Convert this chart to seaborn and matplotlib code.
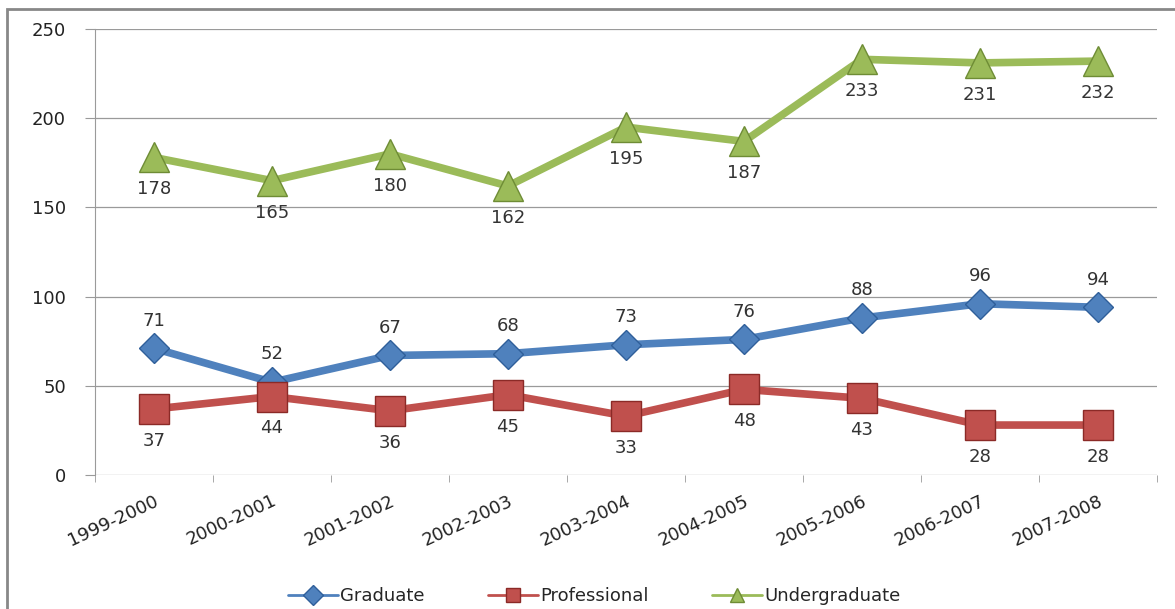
import pandas as pd
import numpy as np
import seaborn as sns
import matplotlib.pyplot as plt
from matplotlib.patches import Rectangle

# Academic years on the x axis
years = ['1999-2000', '2000-2001', '2001-2002', '2002-2003', '2003-2004',
         '2004-2005', '2005-2006', '2006-2007', '2007-2008']

# Values per group
graduate = [71, 52, 67, 68, 73, 76, 88, 96, 94]
professional = [37, 44, 36, 45, 33, 48, 43, 28, 28]
undergraduate = [178, 165, 180, 162, 195, 187, 233, 231, 232]

series = ['Graduate', 'Professional', 'Undergraduate']
colors = {'Graduate': '#4F81BD', 'Professional': '#C0504D', 'Undergraduate': '#9BBB59'}
edge = {'Graduate': '#2F5F9A', 'Professional': '#8B2A27', 'Undergraduate': '#6E8C35'}
markers = {'Graduate': 'D', 'Professional': 's', 'Undergraduate': '^'}
msize = {'Graduate': 15, 'Professional': 22, 'Undergraduate': 22}
label_offset = {'Graduate': 20, 'Professional': -23, 'Undergraduate': -23}

df = pd.DataFrame({
    'Year': years * 3,
    'Group': np.repeat(series, len(years)),
    'Count': graduate + professional + undergraduate,
})

sns.set_style('white')
plt.rcParams['font.family'] = ['DejaVu Sans']

fig = plt.figure(figsize=(11.75, 6.09), dpi=100)
ax = fig.add_axes([95 / 1175, 1 - 475 / 609, (1157 - 95) / 1175, (475 - 29) / 609])

for name in series:
    sub = df[df['Group'] == name]
    sns.lineplot(data=sub, x='Year', y='Count', ax=ax, color=colors[name],
                 linewidth=5.5, marker=markers[name], markersize=msize[name],
                 markerfacecolor=colors[name], markeredgecolor=edge[name],
                 markeredgewidth=1, label=name, sort=False)
    for i, v in enumerate(sub['Count']):
        ax.annotate(str(v), (i, v), xytext=(0, label_offset[name]),
                    textcoords='offset points', ha='center', va='center',
                    fontsize=13, color='#333333')

ax.set_ylim(0, 250)
ax.set_yticks(range(0, 251, 50))
ax.set_xlim(-0.5, len(years) - 0.5)
ax.yaxis.grid(True, color='#9a9a9a', linewidth=0.9)
ax.set_axisbelow(True)
for s in ['top', 'right', 'bottom']:
    ax.spines[s].set_visible(False)
ax.spines['left'].set_color('#9a9a9a')
ax.set_xlabel('')
ax.set_ylabel('')
ax.tick_params(axis='y', labelsize=13, colors='#9a9a9a', labelcolor='#222222',
               length=7, pad=14, direction='out', left=True)
ax.set_xticks(range(len(years)))
ax.set_xticklabels(years, rotation=25, ha='right', rotation_mode='anchor',
                   fontsize=13, color='#222222')
ax.tick_params(axis='x', length=0, pad=12)
ax.set_xticks(np.arange(-0.5, len(years), 1), minor=True)
ax.tick_params(axis='x', which='minor', length=5, colors='#9a9a9a', bottom=True)

leg = ax.legend(loc='upper center', bbox_to_anchor=(0.47, -0.215), ncol=3,
                frameon=False, fontsize=13, handlelength=2.8, columnspacing=3.5,
                handletextpad=0.1)
for h in leg.legend_handles:
    h.set_linewidth(2)
    h.set_markersize(10)

fig.patches.append(Rectangle((7 / 1175, -0.1), 1.2, 1 - 9 / 609 + 0.1,
                             transform=fig.transFigure, fill=False,
                             edgecolor='#888888', linewidth=2))

fig.savefig('out.png', dpi=100)
